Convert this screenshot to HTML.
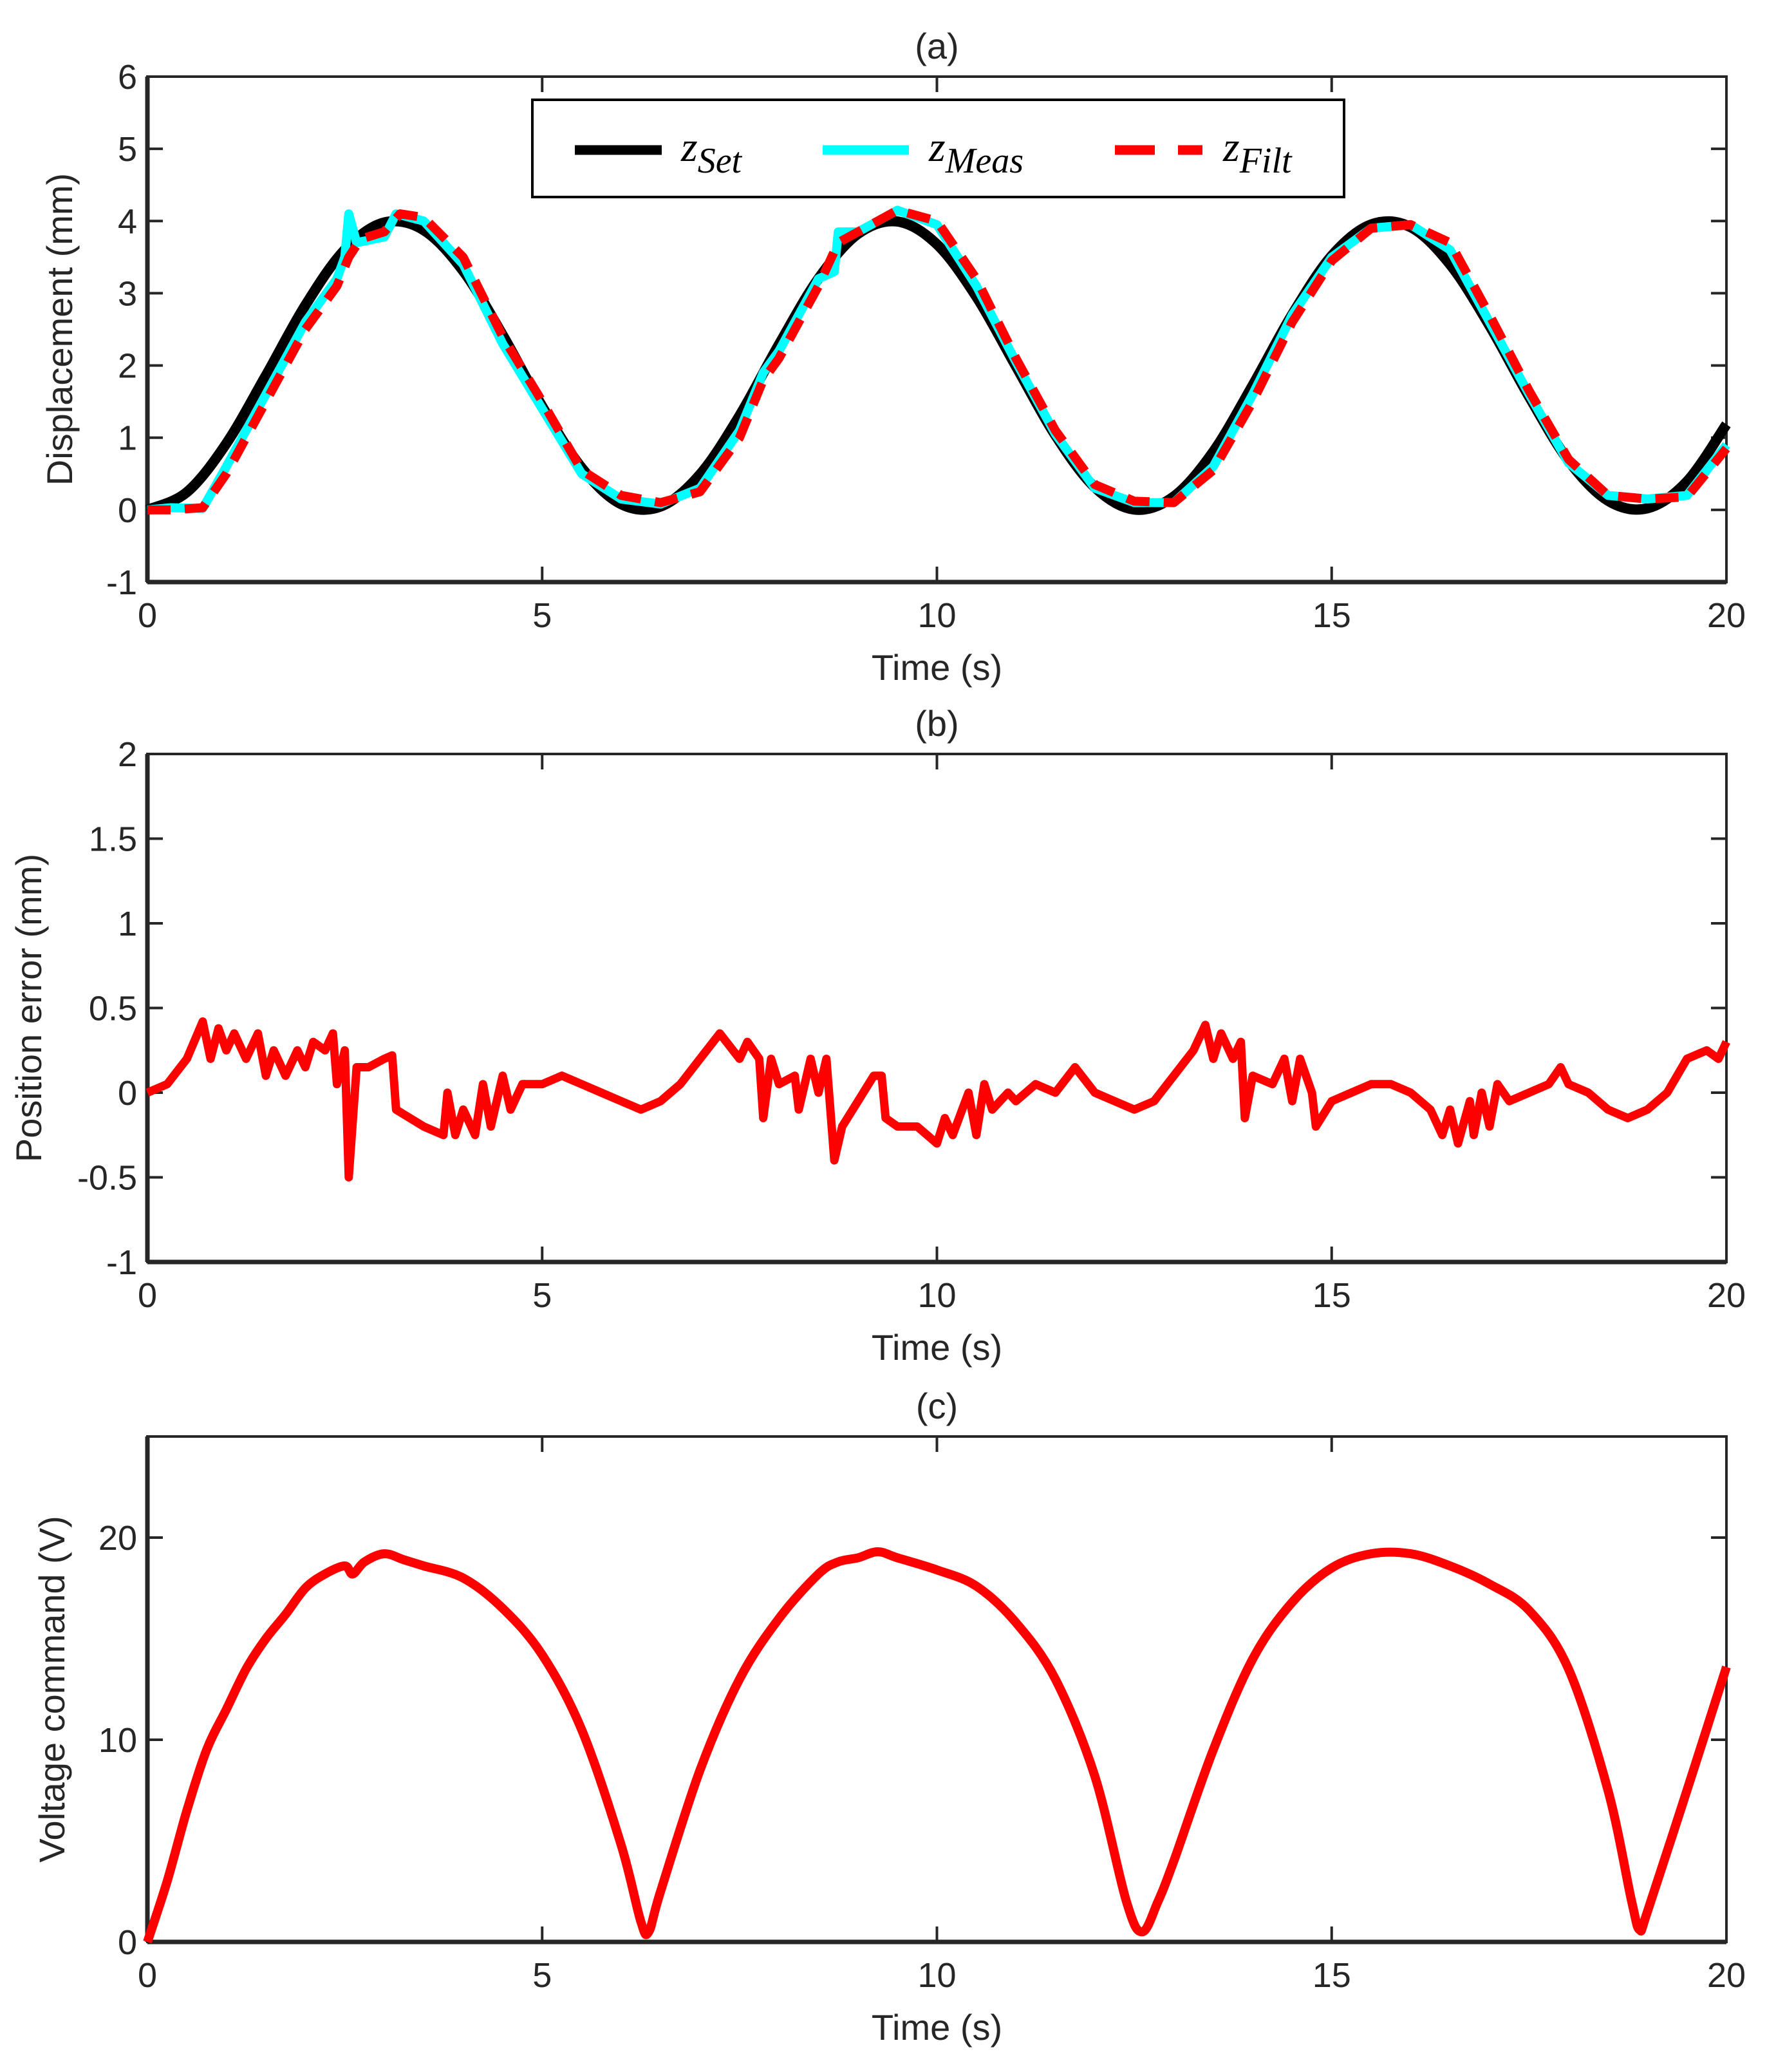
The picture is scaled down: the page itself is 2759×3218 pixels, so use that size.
<!DOCTYPE html>
<html><head><meta charset="utf-8"><style>
body{margin:0;background:#fff}
svg text{font-family:"Liberation Sans",sans-serif;fill:#262626}
</style></head><body>
<svg id="fig" xmlns="http://www.w3.org/2000/svg" width="2759" height="3213" viewBox="0 0 2759 3213">
<g id="root"></g>
</svg>
<script>
// ---- data ----
const setT=[0,0.5,1,1.5,2,2.5,3,3.5,4,4.5,5,5.5,6,6.5,7,7.5,8,8.5,9,9.5,10,10.5,11,11.5,12,12.5,13,13.5,14,14.5,15,15.5,16,16.5,17,17.5,18,18.5,19,19.5,20];
const setV=[0,0.245,0.919,1.859,2.832,3.602,3.980,3.873,3.307,2.421,1.433,0.583,0.080,0.047,0.492,1.305,2.291,3.204,3.822,3.994,3.678,2.952,1.991,1.034,0.312,0.005,0.185,0.806,1.726,2.706,3.519,3.953,3.915,3.398,2.550,1.569,0.680,0.127,0.022,0.393,1.184];
const measT=[0,0.3,0.7,1,1.5,2,2.4,2.5,2.55,2.65,3,3.15,3.5,4,4.5,5,5.5,6,6.5,7,7.5,7.8,8,8.5,8.7,8.75,9,9.5,10,10.5,11,11.5,12,12.5,13,13.5,14,14.5,15,15.5,16,16.5,17,17.5,18,18.5,19,19.5,20];
const measV=[0,0.03,0.02,0.6,1.6,2.6,3.2,3.5,4.1,3.7,3.78,4.1,4.0,3.4,2.3,1.4,0.5,0.15,0.08,0.3,1.1,1.9,2.2,3.2,3.3,3.85,3.85,4.15,3.95,3.1,2.05,1.05,0.3,0.1,0.1,0.6,1.6,2.7,3.5,3.9,3.95,3.6,2.6,1.6,0.65,0.2,0.15,0.2,0.9];
const filtT=[0,0.3,0.7,1,1.5,2,2.4,2.55,2.7,3,3.2,3.5,4,4.5,5,5.5,6,6.5,7,7.5,7.8,8,8.5,8.75,9,9.5,10,10.5,11,11.5,12,12.5,13,13.5,14,14.5,15,15.5,16,16.5,17,17.5,18,18.5,19,19.5,20];
const filtV=[0,0,0.03,0.5,1.5,2.5,3.1,3.5,3.75,3.85,4.1,4.05,3.5,2.4,1.5,0.55,0.2,0.1,0.25,1.0,1.8,2.1,3.1,3.7,3.85,4.15,4.0,3.2,2.1,1.1,0.35,0.12,0.1,0.55,1.5,2.6,3.45,3.9,3.95,3.7,2.7,1.65,0.7,0.2,0.15,0.18,0.85];
const errT=[0,0.25,0.5,0.7,0.8,0.9,1.0,1.1,1.25,1.4,1.5,1.6,1.75,1.9,2.0,2.1,2.25,2.35,2.4,2.5,2.55,2.65,2.8,3.0,3.1,3.15,3.5,3.75,3.8,3.9,4.0,4.15,4.25,4.35,4.5,4.6,4.75,5,5.25,5.5,5.75,6.0,6.25,6.5,6.75,7.0,7.25,7.5,7.6,7.75,7.8,7.9,8.0,8.2,8.25,8.4,8.5,8.6,8.7,8.8,9.0,9.2,9.3,9.35,9.5,9.75,10.0,10.1,10.2,10.4,10.5,10.6,10.7,10.9,11.0,11.25,11.5,11.75,12,12.25,12.5,12.75,13.0,13.25,13.4,13.5,13.6,13.75,13.85,13.9,14.0,14.25,14.4,14.5,14.6,14.75,14.8,15.0,15.25,15.5,15.75,16.0,16.25,16.4,16.5,16.6,16.75,16.8,16.9,17.0,17.1,17.25,17.5,17.75,17.9,18.0,18.25,18.5,18.75,19.0,19.25,19.5,19.75,19.9,20];
const errV=[0,0.05,0.2,0.42,0.2,0.38,0.25,0.35,0.2,0.35,0.1,0.25,0.1,0.25,0.15,0.3,0.25,0.35,0.05,0.25,-0.5,0.15,0.15,0.2,0.22,-0.1,-0.2,-0.25,0.0,-0.25,-0.1,-0.25,0.05,-0.2,0.1,-0.1,0.05,0.05,0.1,0.05,0.0,-0.05,-0.1,-0.05,0.05,0.2,0.35,0.2,0.3,0.2,-0.15,0.2,0.05,0.1,-0.1,0.2,0.0,0.2,-0.4,-0.2,-0.05,0.1,0.1,-0.15,-0.2,-0.2,-0.3,-0.15,-0.25,0.0,-0.25,0.05,-0.1,0.0,-0.05,0.05,0.0,0.15,0.0,-0.05,-0.1,-0.05,0.1,0.25,0.4,0.2,0.35,0.2,0.3,-0.15,0.1,0.05,0.2,-0.05,0.2,0.0,-0.2,-0.05,0.0,0.05,0.05,0.0,-0.1,-0.25,-0.1,-0.3,-0.05,-0.25,0.0,-0.2,0.05,-0.05,0.0,0.05,0.15,0.05,0.0,-0.1,-0.15,-0.1,0.0,0.2,0.25,0.2,0.3];
const voltT=[0,0.25,0.5,0.75,1,1.25,1.5,1.75,2,2.25,2.5,2.6,2.75,3,3.25,3.5,4,4.5,5,5.5,6,6.25,6.35,6.5,7,7.5,8,8.5,8.75,9,9.25,9.5,10,10.5,11,11.5,12,12.4,12.6,12.8,13,13.5,14,14.5,15,15.5,16,16.5,17,17.5,18,18.5,18.8,18.9,19,19.5,20];
const voltV=[0,3,6.5,9.5,11.5,13.5,15,16.2,17.5,18.2,18.6,18.2,18.8,19.2,18.9,18.6,18,16.5,14.2,10.5,4.8,1,0.5,2.5,8.5,13,16,18.2,18.8,19,19.3,19,18.4,17.6,15.8,13,8.2,2,0.5,2,4,9.5,14,16.8,18.5,19.2,19.2,18.6,17.7,16.4,13.5,7.5,2,0.6,1.5,7.5,13.6];
const xTicks=[0,5,10,15,20];
const yTicksA=[-1,0,1,2,3,4,5,6];
const yTicksB=[-1,-0.5,0,0.5,1,1.5,2];
const yTicksC=[0,10,20];

const NS="http://www.w3.org/2000/svg";
const root=document.getElementById('root');
function el(tag,attrs,parent,txt){const e=document.createElementNS(NS,tag);for(const k in attrs)e.setAttribute(k,attrs[k]);if(txt!==undefined)e.textContent=txt;(parent||root).appendChild(e);return e;}
const L=229,R=2682;
function panel(name,top,bot,ymin,ymax,yt,title,ylab,ylabX){
  const g=el('g',{});
  
  
  const sx=t=>L+(t-0)/(20-0)*(R-L);
  const sy=v=>bot-(v-ymin)/(ymax-ymin)*(bot-top);
  const fr=el('rect',{x:L,y:top,width:R-L,height:bot-top,fill:'none',stroke:'#262626','stroke-width':4},g);
  
  
  el('line',{x1:L,y1:top,x2:L,y2:bot,stroke:'#262626','stroke-width':7},g);
  el('line',{x1:L,y1:bot,x2:R,y2:bot,stroke:'#262626','stroke-width':7},g);
  xTicks.forEach(t=>{
    const x=sx(t);
    el('line',{x1:x,y1:bot,x2:x,y2:bot-24,stroke:'#262626','stroke-width':4},g);
    el('line',{x1:x,y1:top,x2:x,y2:top+24,stroke:'#262626','stroke-width':4},g);
    const tx=el('text',{x:x,y:bot+70,'font-size':54,'text-anchor':'middle'},g,String(t));
    
    
  });
  yt.forEach(v=>{
    const y=sy(v);
    el('line',{x1:L,y1:y,x2:L+24,y2:y,stroke:'#262626','stroke-width':4},g);
    el('line',{x1:R,y1:y,x2:R-24,y2:y,stroke:'#262626','stroke-width':4},g);
    const tx=el('text',{x:L-16,y:y+19,'font-size':54,'text-anchor':'end'},g,String(v));
    
    
  });
  const tt=el('text',{x:(L+R)/2,y:top-28,'font-size':56,'text-anchor':'middle'},g,title);
  
  
  const xl=el('text',{x:(L+R)/2,y:bot+152,'font-size':56,'text-anchor':'middle'},g,'Time (s)');
  
  
  const yl=el('text',{x:ylabX,y:(top+bot)/2,'font-size':56,'text-anchor':'middle',transform:`rotate(-90 ${ylabX} ${(top+bot)/2})`},g,ylab);
  
  
  return {g,sx,sy};
}
function line(p,T,V,attrs,name){
  const d=T.map((t,i)=>(i?'L':'M')+p.sx(t).toFixed(1)+' '+p.sy(V[i]).toFixed(1)).join(' ');
  const e=el('path',Object.assign({d,fill:'none','stroke-linejoin':'round'},attrs),p.g);
  
  
  return e;
}
function smooth(p,T,V,attrs,name){
  const P=T.map((t,i)=>[p.sx(t),p.sy(V[i])]);
  let d='M'+P[0][0]+' '+P[0][1];
  for(let i=0;i<P.length-1;i++){
    const p0=P[i-1]||P[i],p1=P[i],p2=P[i+1],p3=P[i+2]||p2;
    const c1=[p1[0]+(p2[0]-p0[0])/6,p1[1]+(p2[1]-p0[1])/6];
    const c2=[p2[0]-(p3[0]-p1[0])/6,p2[1]-(p3[1]-p1[1])/6];
    d+=` C${c1[0].toFixed(1)} ${c1[1].toFixed(1)} ${c2[0].toFixed(1)} ${c2[1].toFixed(1)} ${p2[0].toFixed(1)} ${p2[1].toFixed(1)}`;
  }
  const e=el('path',Object.assign({d,fill:'none'},attrs),p.g);
  
  
}
// panel a
const pa=panel('panel-a-displacement',119,904,-1,6,yTicksA,'(a)','Displacement (mm)',112);
smooth(pa,setT,setV,{stroke:'#000','stroke-width':16},'z-set-line');
line(pa,measT,measV,{stroke:'#00ffff','stroke-width':14},'z-meas-line');
line(pa,filtT,filtV,{stroke:'#ff0000','stroke-width':14,'stroke-dasharray':'36 22'},'z-filt-line');
// legend
const lg=el('g',{});


el('rect',{x:827,y:155,width:1261,height:151,fill:'#fff',stroke:'#000','stroke-width':4},lg);
const ents=[[893,1028,'#000',null,1058,'Set'],[1278,1412,'#00ffff',null,1443,'Meas'],[1732,1868,'#ff0000','62 36',1900,'Filt']];
ents.forEach(e=>{
  const s=el('line',{x1:e[0],y1:233,x2:e[1],y2:233,stroke:e[2],'stroke-width':15},lg);
  if(e[3])s.setAttribute('stroke-dasharray',e[3]);
  
  
  const t=el('text',{x:e[4],y:250,'font-size':66,'font-style':'italic',style:'font-family:"Liberation Serif",serif;fill:#000'},lg);
  
  
  el('tspan',{},t,'z');
  el('tspan',{dy:18,'font-size':56},t,e[5]);
});
// panel b
const pb=panel('panel-b-position-error',1171,1960,-1,2,yTicksB,'(b)','Position error (mm)',64);
line(pb,errT,errV,{stroke:'#ff0000','stroke-width':13},'position-error-line');
// panel c
const pc=panel('panel-c-voltage',2231,3016,0,25,yTicksC,'(c)','Voltage command (V)',100);
smooth(pc,voltT,voltV,{stroke:'#ff0000','stroke-width':14},'voltage-command-line');
</script>
</body></html>
